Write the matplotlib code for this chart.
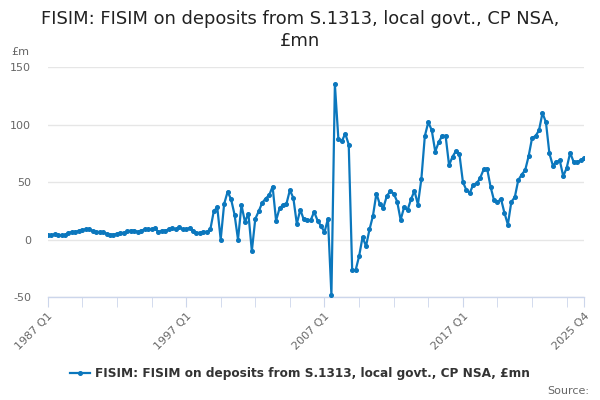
import numpy as np
import matplotlib
matplotlib.use("Agg")
import matplotlib.pyplot as plt
from matplotlib.lines import Line2D

years = list(range(1987, 2026))
quarters = [f"{y} Q{q}" for y in years for q in (1, 2, 3, 4)]

vals_1987_1993 = [3.8, 3.8, 4.6, 3.8, 3.8, 3.8, 5.8, 6.5, 6.7, 7.5, 8.5, 8.7, 8.7,
                  7.5, 6.7, 6.5, 6.5, 5.0, 4.3, 4.3, 5.0, 5.8, 5.8, 7.0, 7.8, 7.8]
vals_1993_1998 = [6.7, 7.8, 8.7, 8.7, 8.7, 9.8, 6.4, 7.8, 7.8, 8.7, 9.8, 8.7, 10.7,
                  8.7, 8.7, 10.1, 7.8, 5.8, 5.8, 6.7, 6.7, 8.7]
vals_1999_2007 = [24.6, 28, 0, 31, 41.5, 35, 21.7, 0, 30, 15.4, 22.6, -10, 18, 24.6,
                  32, 35.6, 38.5, 46, 16.5, 27, 30, 31, 43, 36, 13.6, 26, 17.4, 16.8,
                  16.8, 24, 16.5, 11.6, 6.4, 18]
vals_2007_2017 = [-48.4, 135, 87.8, 85.5, 92, 82.6, -26.7, -26.7, -14.5, 2, -5.8, 8.7,
                  20.5, 40, 30.5, 27.5, 37.7, 42, 40, 33, 17, 28, 25.5, 35, 42.3, 30.4,
                  52.8, 90, 102, 95, 76.5, 84.5, 90.2, 90.2, 64.6, 72, 77, 74, 50, 43, 40.6]
vals_2017_2025 = [47.8, 48.7, 53.6, 60.9, 61.7, 45.8, 34, 32.5, 35.4, 23.2, 13, 32.8,
                  36.8, 51.6, 56.5, 60.3, 72.5, 88.4, 89.9, 95, 110, 102, 74.8, 64.3,
                  67.5, 68.7, 55, 62.3, 75.4, 67.5, 67.5, 68.7, 71]
values = vals_1987_1993 + vals_1993_1998 + vals_1999_2007 + vals_2007_2017 + vals_2017_2025

label_quarters = ["1987 Q1", "1997 Q1", "2007 Q1", "2017 Q1", "2025 Q4"]
y_ticks = [-50, 0, 50, 100, 150]

title = "FISIM: FISIM on deposits from S.1313, local govt., CP NSA,\n£mn"
series_name = "FISIM: FISIM on deposits from S.1313, local govt., CP NSA, £mn"

color = "#0b77bd"
plt.rcParams['font.family'] = ['DejaVu Sans']

fig = plt.figure(figsize=(6, 4), dpi=100)
ax = fig.add_axes([47.7/600, 1 - 297/400, (584 - 47.7)/600, (297 - 67)/400])

x = np.arange(len(values))
ax.plot(x, values, color=color, lw=1.6, marker='o', markersize=2.6, zorder=3)

ax.set_xlim(0, len(values) - 1)
ax.set_ylim(-50, 150)
ax.set_yticks(y_ticks)
ax.set_yticklabels([str(v) for v in y_ticks])
ax.grid(axis='y', color='#e6e6e6', lw=1)
ax.set_axisbelow(True)
for s in ['top', 'right', 'left']:
    ax.spines[s].set_visible(False)
ax.spines['bottom'].set_color('#ccd6eb')
ax.spines['bottom'].set_linewidth(1)
ax.tick_params(axis='y', length=0, labelsize=8, labelcolor='#666666', pad=12)

major_idx = [quarters.index(q) for q in label_quarters]
ax.set_xticks(major_idx)
ax.set_xticklabels(label_quarters, rotation=45, ha='right', rotation_mode='anchor')
minor_idx = list(range(0, len(values), 10))
ax.set_xticks(minor_idx, minor=True)
ax.tick_params(axis='x', which='both', length=7, color='#ccd6eb', labelsize=8,
               labelcolor='#666666', pad=3)

fig.suptitle(title, y=0.975, fontsize=12.9, color='#222222', linespacing=1.3)
fig.text(20/600, 1 - 52/400, "£m", fontsize=8, color='#666666', ha='center', va='center')

handle = Line2D([], [], color=color, lw=1.6, marker='o', markersize=2.6)
fig.legend([handle], [series_name], loc='center', bbox_to_anchor=(0.5, 1 - 374/400),
           frameon=False, prop={'weight': 'bold', 'size': 8.7}, labelcolor='#333333',
           handlelength=1.6, handletextpad=0.4)
fig.text(0.982, 1 - 391/400, "Source:", fontsize=8, color='#666666', ha='right', va='center')

fig.savefig("out.png", dpi=100)
